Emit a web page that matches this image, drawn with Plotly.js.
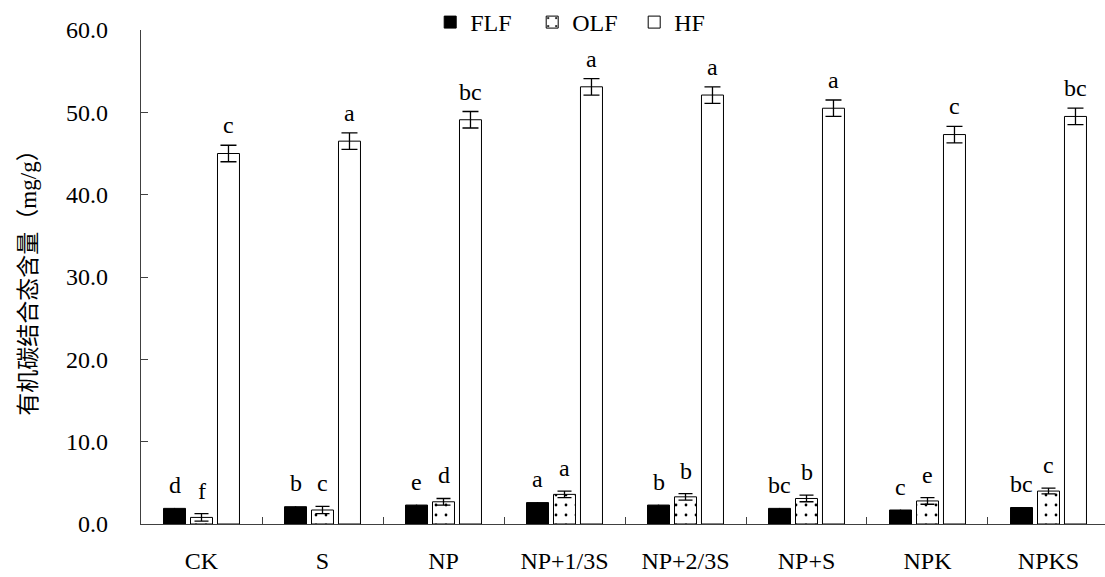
<!DOCTYPE html>
<html>
<head>
<meta charset="utf-8">
<script src="https://cdn.plot.ly/plotly-3.0.1.min.js"></script>
<style>
html,body{margin:0;padding:0;background:#fff;overflow:hidden;}
#chart{width:1105px;height:577px;}
</style>
</head>
<body>
<div id="chart"></div>
<script>
const categories = ["CK", "S", "NP", "NP+1/3S", "NP+2/3S", "NP+S", "NPK", "NPKS"];
const seriesNames = ["FLF", "OLF", "HF"];

const flfValues = [1.9, 2.1, 2.3, 2.6, 2.3, 1.9, 1.7, 2.0];
const flfErrors = [0.05, 0.05, 0.05, 0.05, 0.05, 0.05, 0.05, 0.05];
const flfLetters = ["d", "b", "e", "a", "b", "bc", "c", "bc"];

const olfValues = [0.8, 1.7, 2.7, 3.6, 3.3, 3.1, 2.8, 4.0];
const olfErrors = [0.45, 0.45, 0.4, 0.4, 0.4, 0.4, 0.4, 0.35];
const olfLetters = ["f", "c", "d", "a", "b", "b", "e", "c"];

const hfValues = [45.0, 46.5, 49.1, 53.1, 52.1, 50.5, 47.3, 49.5];
const hfErrors = [1.0, 1.0, 1.0, 1.0, 1.0, 1.0, 1.0, 1.0];
const hfLetters = ["c", "a", "bc", "a", "a", "a", "c", "bc"];

const yTickValues = [0, 10, 20, 30, 40, 50, 60];
const yAxisTitle = "有机碳结合态含量（mg/g）";

const serif = "'Liberation Serif', 'Noto Sans CJK SC', serif";
const axisColor = "#404040";

function errBar(arr, w) {
  return {type: "data", array: arr, visible: true, color: "#000", thickness: 1.3, width: w};
}

const traces = [
  {
    type: "bar", name: seriesNames[0], x: categories, y: flfValues,
    marker: {color: "#000", line: {color: "#000", width: 1}},
    error_y: errBar(flfErrors, 0)
  },
  {
    type: "bar", name: seriesNames[1], x: categories, y: olfValues,
    marker: {color: "#fff", line: {color: "#000", width: 1},
      pattern: {shape: ".", fgcolor: "#000", bgcolor: "#fff", size: 10, solidity: 0.06}},
    error_y: errBar(olfErrors, 7)
  },
  {
    type: "bar", name: seriesNames[2], x: categories, y: hfValues,
    marker: {color: "#fff", line: {color: "#000", width: 1}},
    error_y: errBar(hfErrors, 8)
  }
];

const letterSets = [
  {vals: flfValues, errs: flfErrors, letters: flfLetters, shift: -27, lift: 8},
  {vals: olfValues, errs: olfErrors, letters: olfLetters, shift: 0, lift: 8},
  {vals: hfValues, errs: hfErrors, letters: hfLetters, shift: 27, lift: 5}
];
const annotations = [];
letterSets.forEach(s => {
  categories.forEach((c, i) => {
    annotations.push({
      x: c, y: s.vals[i] + s.errs[i], xref: "x", yref: "y",
      text: s.letters[i], showarrow: false,
      xanchor: "center", yanchor: "bottom",
      xshift: s.shift, yshift: s.lift,
      font: {family: serif, size: 24, color: "#000"}
    });
  });
});

const layout = {
  width: 1105, height: 577,
  margin: {l: 141, r: 0, t: 27, b: 53, pad: 0},
  paper_bgcolor: "#fff", plot_bgcolor: "#fff",
  barmode: "group", bargap: 0.331, bargroupgap: 0.185,
  font: {family: serif, size: 24, color: "#000"},
  showlegend: true,
  legend: {
    orientation: "h", x: 0.30, xanchor: "left", y: 1.016, yanchor: "middle",
    font: {family: serif, size: 24, color: "#000"},
    bgcolor: "rgba(0,0,0,0)", itemwidth: 30, tracegroupgap: 0,
    entrywidth: 57, entrywidthmode: "pixels"
  },
  xaxis: {
    type: "category", range: [-0.5, 7.467],
    showline: true, linecolor: axisColor, linewidth: 1.3,
    ticks: "inside", ticklen: 7, tickwidth: 1, tickcolor: axisColor,
    tickson: "boundaries", showgrid: false, zeroline: false,
    ticklabelstandoff: 15,
    tickfont: {family: serif, size: 24, color: "#000"}
  },
  yaxis: {
    range: [0, 60], tickvals: yTickValues, tickformat: ".1f",
    showline: true, linecolor: axisColor, linewidth: 1.3,
    ticks: "inside", ticklen: 7, tickwidth: 1, tickcolor: axisColor,
    showgrid: false, zeroline: false,
    ticklabelstandoff: 27,
    tickfont: {family: serif, size: 24, color: "#000"},
    title: {text: yAxisTitle, standoff: 22, font: {family: serif, size: 23, color: "#000"}}
  },
  annotations: annotations
};

Plotly.newPlot("chart", traces, layout, {displayModeBar: false, responsive: false});
</script>
</body>
</html>
